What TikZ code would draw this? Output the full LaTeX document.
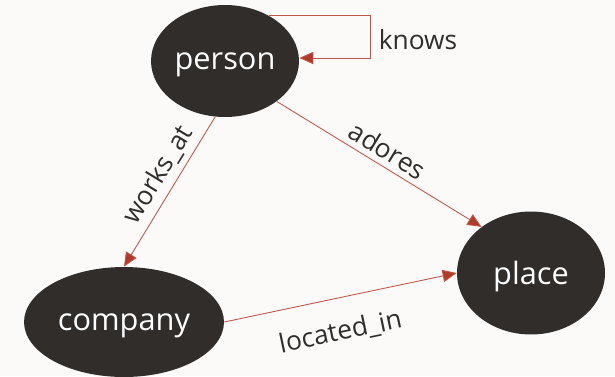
\documentclass[tikz,border=0pt]{standalone}
\usepackage{fontspec}
\setmainfont{Open Sans}
\usetikzlibrary{arrows.meta,shapes.geometric,positioning,calc}
\definecolor{bgc}{HTML}{FBFAF9}
\definecolor{entc}{HTML}{312D2A}
\definecolor{relc}{HTML}{B03A2C}
\begin{document}
\begin{tikzpicture}[
    x=0.02cm, y=-0.02cm,
    ent/.style={ellipse, fill=entc, text=white, inner sep=0pt, text depth=0pt, font=\fontsize{17.5}{20}\selectfont},
    rel/.style={-{Triangle[length=8pt, width=7pt, fill=relc]}, draw=relc!85, line width=0.5pt},
    lbl/.style={font=\fontsize{15}{17}\selectfont, text=entc}
]
\clip (0,0) rectangle (615,376);
\fill[bgc] (0,0) rectangle (615,376);

\node[ent, minimum width=2.96cm, minimum height=2.24cm] (person) at (225,61) {person};
\node[ent, minimum width=4cm, minimum height=2.2cm] (company) at (124,322) {company};
\node[ent, minimum width=2.96cm, minimum height=2.46cm] (place) at (531,273) {place};
\coordinate (kturn) at (370,58);

\draw[rel] (person.46) -| (kturn) -- (person.east |- kturn);
\node[lbl] (knows) at (418,40) {knows};
\draw[rel] (person.-100) -- node[lbl, sloped, above, pos=0.45] {works\_at} (company.north);
\draw[rel] (person.-38) -- node[lbl, sloped, above, pos=0.5] {adores} (place.137);
\draw[rel] (company.east) -- node[lbl, sloped, below=9pt, pos=0.47] {located\_in} (place.west);
\end{tikzpicture}
\end{document}
